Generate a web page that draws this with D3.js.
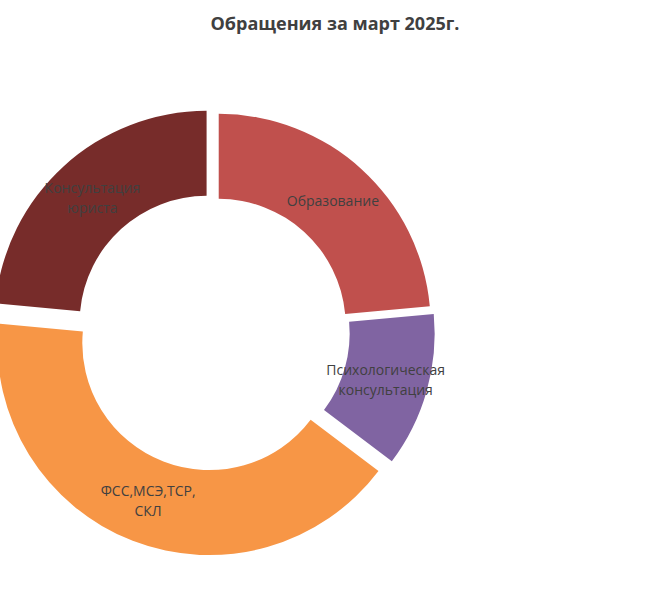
<!DOCTYPE html>
<html>
<head>
<meta charset="utf-8">
<script src="https://cdn.jsdelivr.net/npm/d3@7/dist/d3.min.js"></script>
<style>
  body { margin: 0; background: #fff; }
  svg { display: block; }
</style>
</head>
<body>
<div id="chart"></div>
<script>
// Data
var categories = ["Образование", "Психологическая консультация", "ФСС,МСЭ,ТСР, СКЛ", "Консультация юриста"];
var values = [20, 10, 35, 20];
var colors = ["#C0504D", "#8064A2", "#F79646", "#772C2A"];
// explosion of each slice, px
var explode = [7, 9, 13, 11];

var width = 660;
var height = 596;
var cx = 214;
var cy = 331;
var outerR = 212;
var innerR = 127;

var svg = d3.select("#chart")
    .append("svg")
    .attr("width", width)
    .attr("height", height);

// Title
svg.append("text")
    .attr("x", 335)
    .attr("y", 30)
    .attr("text-anchor", "middle")
    .style("font-family", "'Open Sans', sans-serif")
    .style("font-size", "18px")
    .style("font-weight", "bold")
    .style("fill", "#404040")
    .text("Обращения за март 2025г.");

var pie = d3.pie().sort(null).value(function(d) { return d; });
var arc = d3.arc().innerRadius(innerR).outerRadius(outerR);
var arcs = pie(values);

var g = svg.append("g").attr("transform", "translate(" + cx + "," + cy + ")");

var slices = g.selectAll("g.slice")
    .data(arcs)
    .enter()
    .append("g")
    .attr("class", "slice")
    .attr("transform", function(d, i) {
        var mid = (d.startAngle + d.endAngle) / 2;
        return "translate(" + (Math.sin(mid) * explode[i]) + "," + (-Math.cos(mid) * explode[i]) + ")";
    });

slices.append("path")
    .attr("d", arc)
    .attr("fill", function(d, i) { return colors[i]; });

// Labels at ring centroid, one word per line
slices.append("text")
    .attr("transform", function(d) { return "translate(" + arc.centroid(d) + ")"; })
    .attr("text-anchor", "middle")
    .style("font-family", "'Open Sans', sans-serif")
    .style("font-size", "14px")
    .style("fill", "#404040")
    .each(function(d, i) {
        var lines = categories[i].split(" ");
        var t = d3.select(this);
        var start = -(lines.length - 1) * 10 + 5;
        lines.forEach(function(line, k) {
            t.append("tspan")
                .attr("x", 0)
                .attr("y", start + k * 20)
                .text(line);
        });
    });
</script>
</body>
</html>
